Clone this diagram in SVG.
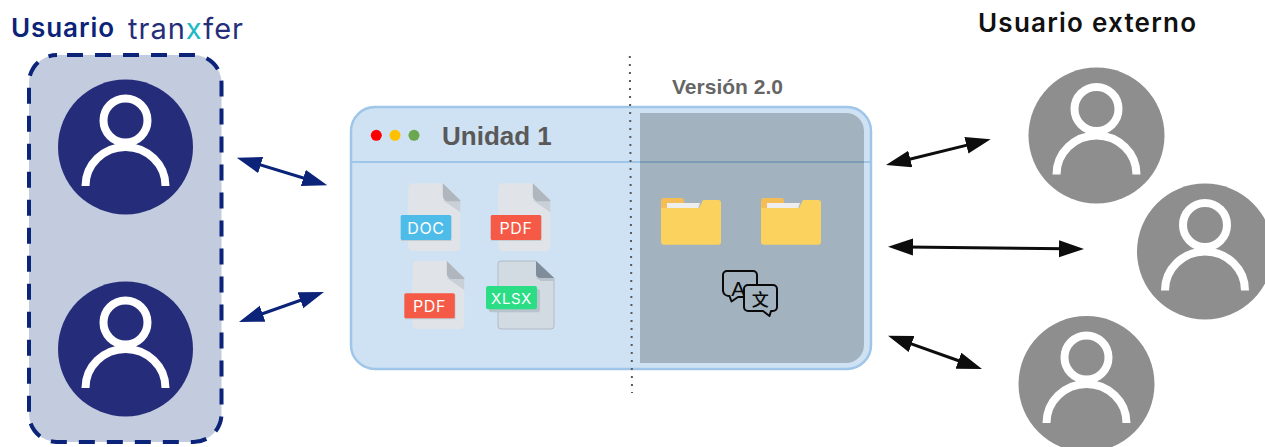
<svg xmlns="http://www.w3.org/2000/svg" width="1265" height="447" viewBox="0 0 1265 447">
<style>
.hd{font-family:"Inter","Liberation Sans",sans-serif;font-weight:600}
.ring{fill:none;stroke:#fff;stroke-width:8}
.navy{fill:#252d7a}
.grey{fill:#8e8e8e}
.blue{fill:none;stroke:#0b2378;stroke-width:3;marker-start:url(#ab);marker-end:url(#ab)}
.blk{fill:none;stroke:#0d0d0d;stroke-width:3;marker-start:url(#ak);marker-end:url(#ak)}
.lbl{font-family:"Inter","Liberation Sans",sans-serif;font-size:16px;font-weight:400;fill:#fff;text-anchor:middle;letter-spacing:.6px}
.sheet{fill:#e0e4e8}
.fold{fill:#afb6bd}
.foldsh{fill:#c9d0d7}
.bub{fill:#a3b3c0;stroke:#0a0a0a;stroke-width:2;stroke-linejoin:round}
</style>
<defs>
<marker id="ab" markerUnits="userSpaceOnUse" markerWidth="26" markerHeight="18" refX="7" refY="8.5" orient="auto-start-reverse"><path d="M0 0L25 8.5L0 17Z" fill="#0b2378"/></marker>
<marker id="ak" markerUnits="userSpaceOnUse" markerWidth="26" markerHeight="18" refX="7" refY="8.5" orient="auto-start-reverse"><path d="M0 0L25 8.5L0 17Z" fill="#0d0d0d"/></marker>
<g id="person"><circle class="ring" cx="0" cy="-26.5" r="22"/><path class="ring" d="M-40 39A40 39 0 0 1 40 39"/></g>
<g id="folder">
<path d="M0 4a3 3 0 0 1 3-3H20a3 3 0 0 1 3 3V20H0Z" fill="#f4bd55" transform="translate(0,-1)"/>
<path d="M6 5H39L37 11H6Z" fill="#eeeeee"/>
<path d="M0 10H38L42 2H57a3 3 0 0 1 3 3V44a2.500 2.500 0 0 1-3 2.700H3a3 3 0 0 1-3-3Z" fill="#fcd25f"/>
</g>
<g id="sheetico">
<path class="sheet" d="M5 0H34.500L52 17V63a5 5 0 0 1-5 5H5a5 5 0 0 1-5-5V5a5 5 0 0 1 5-5Z"/>
<path class="foldsh" d="M34.500 17H52V29Z"/>
<path class="fold" d="M34.500 0L52 17V18H40a5.500 5.500 0 0 1-5.500-5.500Z"/>
</g>
</defs>
<rect width="1265" height="447" fill="#fff"/>
<g id="user-group">
<rect x="29" y="55" width="192.500" height="387" rx="28" fill="#c3cbdf" stroke="#0b2378" stroke-width="4" stroke-dasharray="16 12" stroke-dashoffset="18"/>
<text class="hd" x="11" y="36.500" font-size="26" fill="#0b2378" textLength="103">Usuario</text>
<text x="128" y="39" font-family="Inter,sans-serif" font-weight="400" font-size="29" fill="#262e7a" textLength="115">tran<tspan fill="#1fb8c4">x</tspan>fer</text>
</g>
<g id="user-1"><circle class="navy" cx="125.500" cy="147" r="67.500"/><use href="#person" x="125.500" y="147"/></g>
<g id="user-2"><circle class="navy" cx="125.500" cy="349" r="67.500"/><use href="#person" x="125.500" y="349"/></g>
<g id="window">
<rect x="351" y="107" width="520" height="262" rx="24" fill="#cfe2f3" stroke="#9fc5e8" stroke-width="2.500"/>
<line x1="351" y1="162" x2="871" y2="162" stroke="#9fc5e8" stroke-width="2"/>
<circle cx="376.300" cy="135.300" r="5.500" fill="#ff0000"/>
<circle cx="395" cy="135.300" r="5.500" fill="#ffc000"/>
<circle cx="414" cy="135.300" r="5.500" fill="#6aa84f"/>
<text x="442" y="144.500" font-family="Liberation Sans,sans-serif" font-weight="700" font-size="26" fill="#595959">Unidad 1</text>
<path d="M640 113H846a18 18 0 0 1 18 18V345a18 18 0 0 1-18 18H640Z" fill="#000" fill-opacity=".21"/>
</g>
<g id="version"><text x="672" y="94" font-family="Liberation Sans,sans-serif" font-weight="700" font-size="21" fill="#666">Versión 2.0</text></g>
<g id="divider"><line x1="629.800" y1="56" x2="632" y2="393" stroke="#595959" stroke-width="2" stroke-dasharray="2 6"/></g>
<g id="file-doc">
<use href="#sheetico" x="408.300" y="183.300"/>
<rect x="401" y="216" width="50.500" height="25" fill="#c4ccd3"/>
<rect x="400.700" y="215" width="50.500" height="25" rx="1.500" fill="#4dbce9"/>
<text class="lbl" x="426" y="233.500">DOC</text>
</g>
<g id="file-pdf-1">
<use href="#sheetico" x="498.300" y="183.300"/>
<rect x="491" y="216" width="50.500" height="25" fill="#c4ccd3"/>
<rect x="490.700" y="215" width="50.500" height="25" rx="1.500" fill="#f45a45"/>
<text class="lbl" x="516" y="233.500">PDF</text>
</g>
<g id="file-pdf-2">
<use href="#sheetico" x="412.300" y="261"/>
<rect x="405" y="294.300" width="50.500" height="25" fill="#c4ccd3"/>
<rect x="404.300" y="293.300" width="50.500" height="25" rx="1.500" fill="#f45a45"/>
<text class="lbl" x="429.500" y="311.800">PDF</text>
</g>
<g id="file-xlsx">
<path d="M501 261H536L554 278V326a3 3 0 0 1-3 3H501a3 3 0 0 1-3-3V264a3 3 0 0 1 3-3Z" fill="#d2dae2" stroke="#a9b3bd" stroke-width=".8"/>
<path d="M536 278H554V281H541Z" fill="#b9c3cd"/>
<path d="M536 261L554 278H540a4 4 0 0 1-4-4Z" fill="#7f8c99"/>
<rect x="489" y="289" width="51" height="23.300" rx="2" fill="#b9c3cd"/>
<rect x="486" y="286" width="51" height="23.300" rx="2" fill="#2bde85"/>
<text class="lbl" x="511.500" y="303.500" style="font-size:15px">XLSX</text>
</g>
<g id="folder-1"><use href="#folder" x="661" y="198"/></g>
<g id="folder-2"><use href="#folder" x="761" y="198"/></g>
<g id="translate">
<path class="bub" d="M727 271H753a4 4 0 0 1 4 4V293a4 4 0 0 1-4 4H738L731.500 301.500L729.500 296A6 6 0 0 1 723 291V275a4 4 0 0 1 4-4Z"/>
<text x="738.300" y="296" text-anchor="middle" font-family="Liberation Sans,sans-serif" font-size="21" fill="#0a0a0a">A</text>
<path class="bub" d="M748 285H773a4 4 0 0 1 4 4V307a4 4 0 0 1-4 4H771L769.500 316L763 311H748a4 4 0 0 1-4-4V289a4 4 0 0 1 4-4Z"/>
<text x="760.300" y="305.500" text-anchor="middle" font-family="Noto Sans CJK SC,sans-serif" font-weight="500" font-size="17" fill="#0a0a0a">文</text>
</g>
<g id="external-label"><text class="hd" x="978" y="32" font-size="26" fill="#111" textLength="218">Usuario externo</text></g>
<g id="ext-1"><circle class="grey" cx="1096.500" cy="135.500" r="68"/><use href="#person" x="1096.500" y="135.500"/></g>
<g id="ext-2"><circle class="grey" cx="1205" cy="251.500" r="68"/><use href="#person" x="1205" y="251.500"/></g>
<g id="ext-3"><circle class="grey" cx="1086.500" cy="384" r="68"/><use href="#person" x="1086.500" y="384"/></g>
<g id="connectors">
<line class="blue" x1="254" y1="163" x2="310" y2="180"/>
<line class="blue" x1="256" y1="316" x2="307" y2="298"/>
<line class="blk" x1="903.500" y1="160.700" x2="973.200" y2="143.600"/>
<line class="blk" x1="906" y1="247" x2="1066" y2="248.800"/>
<line class="blk" x1="905" y1="341.700" x2="965" y2="363"/>
</g>
</svg>
